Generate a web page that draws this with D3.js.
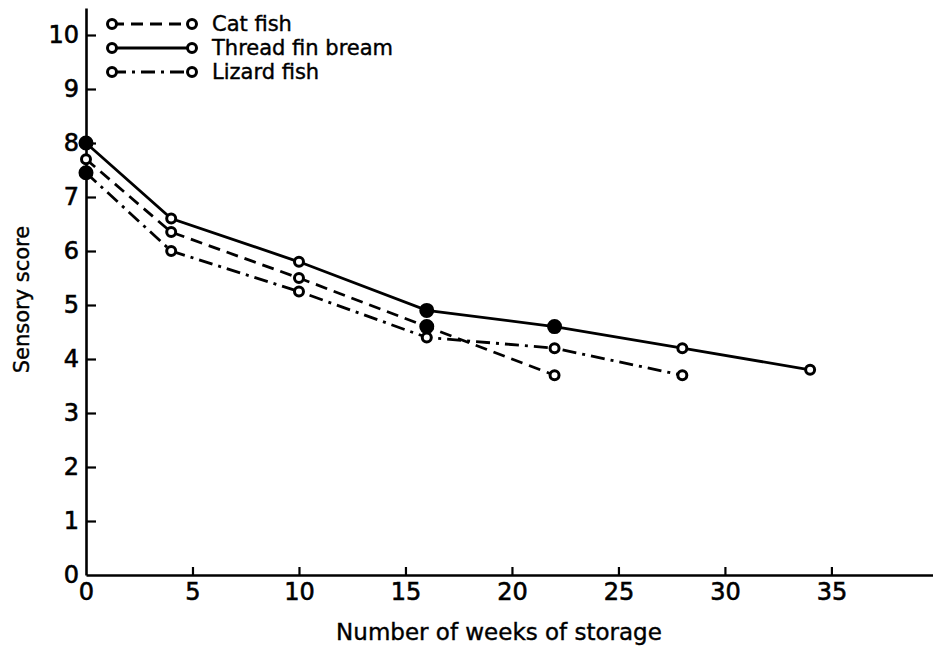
<!DOCTYPE html>
<html>
<head>
<meta charset="utf-8">
<script src="https://cdn.jsdelivr.net/npm/d3@7"></script>
<style>
  html, body { margin: 0; padding: 0; background: #fff; }
  svg { display: block; }
  text { font-family: "DejaVu Sans", sans-serif; fill: #000; }
</style>
</head>
<body>
<svg id="chart" width="933" height="647"></svg>
<script>
// Storage time (weeks) and sensory scores for each species
const catWeeks = [0, 4, 10, 16, 22];
const catScores = [7.7, 6.35, 5.5, 4.6, 3.7];

const breamWeeks = [0, 4, 10, 16, 22, 28, 34];
const breamScores = [8.0, 6.6, 5.8, 4.9, 4.6, 4.2, 3.8];

const lizardWeeks = [0, 4, 10, 16, 22, 28];
const lizardScores = [7.45, 6.0, 5.25, 4.4, 4.2, 3.7];

const seriesNames = ["Cat fish", "Thread fin bream", "Lizard fish"];
const xTickValues = [0, 5, 10, 15, 20, 25, 30, 35];
const yTickValues = [0, 1, 2, 3, 4, 5, 6, 7, 8, 9, 10];
const xTitle = "Number of weeks of storage";
const yTitle = "Sensory score";

// Points drawn as solid dots (series index -> week list)
const solidDots = { 0: [16], 1: [0, 16, 22], 2: [0] };

const series = [
  { name: seriesNames[0], weeks: catWeeks, scores: catScores, dash: "12,7" },
  { name: seriesNames[1], weeks: breamWeeks, scores: breamScores, dash: null },
  { name: seriesNames[2], weeks: lizardWeeks, scores: lizardScores, dash: "14,6,3,6" }
];

const svg = d3.select("#chart");
const left = 86, bottom = 575;

const x = d3.scaleLinear().domain([0, 39.77]).range([left, 933]);
const y = d3.scaleLinear().domain([0, 10.5]).range([bottom, 8]);

// Axes with inward ticks
const xAxis = d3.axisBottom(x).tickValues(xTickValues).tickSize(-8).tickSizeOuter(0).tickPadding(8).tickFormat(d3.format("d"));
const yAxis = d3.axisLeft(y).tickValues(yTickValues).tickSize(-10).tickSizeOuter(0).tickPadding(7).tickFormat(d3.format("d"));

const gx = svg.append("g").attr("transform", `translate(0,${bottom})`).call(xAxis);
const gy = svg.append("g").attr("transform", `translate(${left},0)`).call(yAxis);

[gx, gy].forEach(g => {
  g.select(".domain").attr("stroke", "#000").attr("stroke-width", 2.6);
  g.selectAll(".tick line").attr("stroke", "#000").attr("stroke-width", 2.2);
  g.selectAll(".tick text")
    .attr("font-size", 24)
    .attr("font-family", "DejaVu Sans, sans-serif")
    .attr("fill", "#000")
    .attr("stroke", "#000")
    .attr("stroke-width", 0.6);
});
gx.selectAll(".tick").filter(d => d === 0).select("line").remove();
gy.selectAll(".tick").filter(d => d === 0).select("line").remove();
gx.selectAll(".tick text").attr("dy", "0.71em");

// Axis titles
svg.append("text")
  .attr("x", 499).attr("y", 640)
  .attr("text-anchor", "middle")
  .attr("font-size", 23)
  .attr("stroke", "#000").attr("stroke-width", 0.4)
  .text(xTitle);

svg.append("text")
  .attr("transform", `translate(29,${y(5.1)}) rotate(-90)`)
  .attr("text-anchor", "middle")
  .attr("font-size", 21)
  .attr("stroke", "#000").attr("stroke-width", 0.4)
  .text(yTitle);

// Series lines
const line = d3.line().x(d => x(d[0])).y(d => y(d[1]));

series.forEach((s, i) => {
  const pts = s.weeks.map((w, k) => [w, s.scores[k]]);
  svg.append("path")
    .datum(pts)
    .attr("d", line)
    .attr("fill", "none")
    .attr("stroke", "#000")
    .attr("stroke-width", 2.8)
    .attr("stroke-dasharray", s.dash);
  svg.selectAll(null)
    .data(pts)
    .enter().append("circle")
    .attr("cx", d => x(d[0]))
    .attr("cy", d => y(d[1]))
    .attr("r", d => solidDots[i].includes(d[0]) ? 6 : 4.5)
    .attr("fill", d => solidDots[i].includes(d[0]) ? "#000" : "#fff")
    .attr("stroke", "#000")
    .attr("stroke-width", 3);
});

// Legend
const legend = svg.append("g");
series.forEach((s, i) => {
  const ly = 24 + i * 24;
  legend.append("line")
    .attr("x1", 112).attr("x2", 192).attr("y1", ly).attr("y2", ly)
    .attr("stroke", "#000").attr("stroke-width", 2.8)
    .attr("stroke-dasharray", s.dash);
  [112, 192].forEach(cx => legend.append("circle")
    .attr("cx", cx).attr("cy", ly).attr("r", 4.5)
    .attr("fill", "#fff").attr("stroke", "#000").attr("stroke-width", 3));
  legend.append("text")
    .attr("x", 212).attr("y", ly).attr("dy", "0.35em")
    .attr("font-size", 21)
    .attr("textLength", null)
    .attr("stroke", "#000").attr("stroke-width", 0.4)
    .text(s.name);
});
</script>
</body>
</html>
